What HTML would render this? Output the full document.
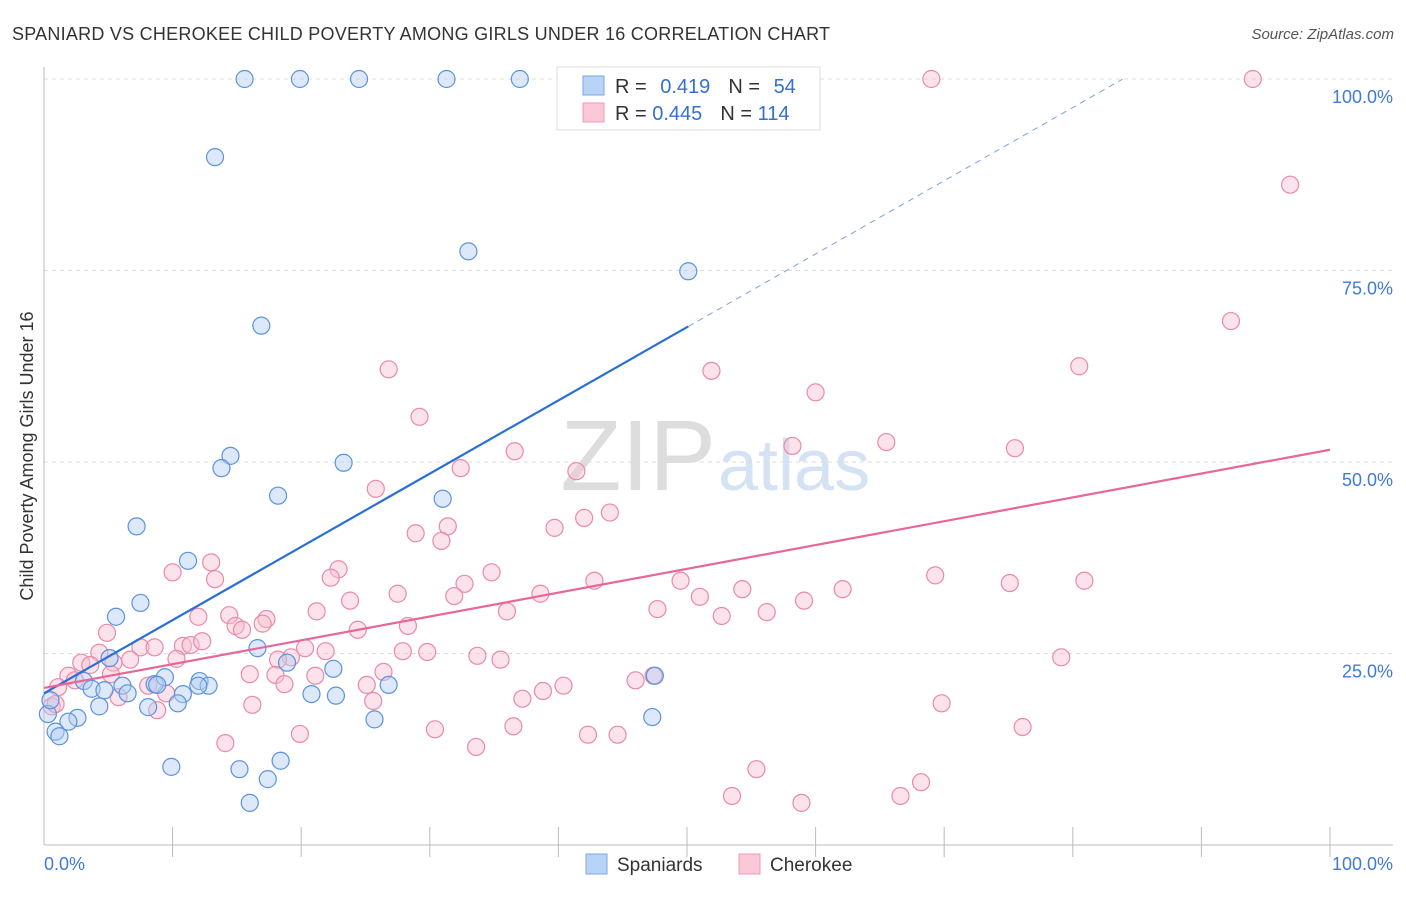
<!DOCTYPE html>
<html><head><meta charset="utf-8"><style>
body{margin:0;background:#fff;font-family:"Liberation Sans",sans-serif;}
svg text{font-family:"Liberation Sans",sans-serif;}
</style></head><body>
<svg id="c" width="1406" height="892" xmlns="http://www.w3.org/2000/svg">
<text x="12" y="40" font-size="18" fill="#333" textLength="818">SPANIARD VS CHEROKEE CHILD POVERTY AMONG GIRLS UNDER 16 CORRELATION CHART</text>
<text x="1394" y="39" font-size="15" fill="#555" text-anchor="end" font-style="italic">Source: ZipAtlas.com</text>
<text x="716" y="490" font-size="100" fill="#ddd" text-anchor="end" font-family="Liberation Serif">ZIP</text>
<text x="718" y="490" font-size="72" fill="#d4e2f4">atlas</text>
<text transform="translate(33,456) rotate(-90)" font-size="18" fill="#333" text-anchor="middle">Child Poverty Among Girls Under 16</text>
<g id="grid"></g><g id="marks"></g><g id="lines"></g>
<g>
<rect x="557" y="67" width="263" height="63" fill="#fff" stroke="#ddd"/>
<rect x="583" y="76" width="21" height="19" fill="#b8d3f5" stroke="#7aa8e6"/>
<rect x="583" y="103" width="21" height="19" fill="#fac8d6" stroke="#f09ab4"/>
<text x="615" y="93" font-size="20" fill="#333">R = <tspan fill="#3470d0" dx="8">0.419</tspan><tspan fill="#333" dx="18">N = </tspan><tspan fill="#3470d0" dx="8">54</tspan></text>
<text x="615" y="120" font-size="20" fill="#333">R = <tspan fill="#3470d0">0.445</tspan><tspan fill="#333" dx="18">N = </tspan><tspan fill="#3470d0">114</tspan></text>
</g>
<g>
<rect x="586" y="854" width="21" height="20" fill="#b8d3f5" stroke="#7aa8e6"/>
<text x="617" y="871" font-size="19" fill="#333">Spaniards</text>
<rect x="739" y="854" width="21" height="20" fill="#fac8d6" stroke="#f09ab4"/>
<text x="770" y="871" font-size="19" fill="#333">Cherokee</text>
</g>
</svg>
<script>
const yTicks=[25,50,75,100];
const yTickLabels=["25.0%","50.0%","75.0%","100.0%"];
const blueX=[15.6,19.9,24.5,31.3,37.0,13.3,33.0,50.1,16.9,14.5,13.8,23.3,18.2,31.0,7.2,11.2,7.5,5.6,16.6,5.1,3.1,3.7,4.7,6.1,6.5,8.6,9.4,8.8,12.1,12.8,12.0,10.8,10.4,8.1,4.3,18.9,22.5,20.8,22.7,26.8,25.7,2.6,1.9,0.9,1.2,0.3,0.5,9.9,15.2,17.4,18.4,16.0,47.5,47.3];
const blueY=[100,100,100,100,100,89.8,77.5,74.9,67.8,50.8,49.2,49.9,45.6,45.2,41.6,37.1,31.6,29.8,25.7,24.4,21.4,20.4,20.2,20.8,19.8,21.0,21.9,20.9,21.4,20.8,20.8,19.7,18.5,18.0,18.1,23.8,23.0,19.7,19.5,20.9,16.4,16.6,16.1,14.8,14.2,17.1,18.9,10.2,9.9,8.6,11.0,5.5,22.1,16.7];
const pinkX=[69.0,94.0,96.9,92.3,80.5,26.8,51.9,60.0,29.2,36.6,58.2,65.5,75.5,32.4,41.4,25.8,44.0,42.0,31.4,39.7,28.9,30.9,13.0,10.0,13.3,22.9,22.3,34.8,32.7,31.9,27.5,23.8,38.6,42.8,49.5,51.0,54.3,62.1,69.3,75.1,80.9,47.7,52.7,56.2,59.1,36.0,21.2,14.4,12.0,17.3,14.9,15.4,17.0,24.4,28.3,4.9,7.5,8.6,10.8,11.4,12.3,20.3,21.9,27.9,29.8,33.7,35.5,79.1,4.3,2.9,3.6,5.4,6.7,10.3,19.2,18.2,1.9,2.4,5.2,16.0,18.0,21.1,26.4,1.1,8.1,9.5,5.8,18.7,25.1,40.4,46.0,47.4,38.8,37.2,25.6,16.2,8.8,69.8,0.6,0.9,36.5,30.4,76.1,19.9,42.3,44.6,14.1,33.6,55.4,68.2,53.5,66.6,58.9];
const pinkY=[100,100,86.2,68.4,62.5,62.1,61.9,59.1,55.9,51.4,52.1,52.6,51.8,49.2,48.8,46.5,43.4,42.7,41.6,41.4,40.7,39.7,36.9,35.6,34.7,36.0,34.9,35.6,34.1,32.5,32.8,31.9,32.8,34.5,34.5,32.4,33.4,33.4,35.2,34.2,34.5,30.8,29.9,30.4,31.9,30.5,30.5,30.0,29.8,29.5,28.6,28.1,28.9,28.1,28.6,27.7,25.8,25.8,26.0,26.1,26.6,25.7,25.3,25.3,25.2,24.7,24.2,24.5,25.1,23.8,23.5,23.8,24.2,24.3,24.5,24.2,22.1,21.5,22.3,22.3,22.2,22.1,22.6,20.6,20.8,19.8,19.3,21.0,20.9,20.8,21.5,22.1,20.1,19.1,18.8,18.3,17.6,18.5,18.1,18.4,15.5,15.1,15.4,14.5,14.4,14.4,13.3,12.8,9.9,8.2,6.4,6.4,5.5];
const blueTrend=[19.8,0.956];
const pinkTrend=[20.5,0.311];
const X0=44,X1=1330,Y0=845,Y100=79;
const sx=v=>X0+(X1-X0)*v/100, sy=v=>Y0-(Y0-Y100)*v/100;
const NS="http://www.w3.org/2000/svg";
function mk(t,a,p){const e=document.createElementNS(NS,t);for(const k in a)e.setAttribute(k,a[k]);p.appendChild(e);return e;}
const grid=document.getElementById('grid'),marks=document.getElementById('marks'),lines=document.getElementById('lines');
yTicks.forEach((t,i)=>{
 const g=mk('line',{x1:X0,x2:1393,y1:sy(t),y2:sy(t),stroke:'#ddd','stroke-dasharray':'4,4'},grid);
 
 
 const l=mk('text',{x:1393,y:sy(t)+24,'font-size':18,fill:'#3f7ad6','text-anchor':'end'},grid);
 l.textContent=yTickLabels[i];
 
 
});
const ax=mk('line',{x1:X0,x2:X0,y1:67,y2:Y0,stroke:'#bbb'},grid);


const bx=mk('line',{x1:X0,x2:1393,y1:Y0,y2:Y0,stroke:'#bbb'},grid);


for(let i=1;i<=10;i++){const t=mk('line',{x1:sx(i*10),x2:sx(i*10),y1:Y0-18,y2:Y0+12,stroke:'#bbb'},grid);
 
 }
[["0.0%",X0,'start'],["100.0%",1393,'end']].forEach(a=>{const t=mk('text',{x:a[1],y:870,'font-size':18,fill:'#3f7ad6','text-anchor':a[2]},grid);t.textContent=a[0];
 
 });
function pts(xs,ys,f,s,n){xs.forEach((x,i)=>{const c=mk('circle',{cx:sx(x),cy:sy(ys[i]),r:8.5,fill:f,'fill-opacity':0.45,stroke:s,'stroke-width':1.2},marks);
 
 });}
pts(pinkX,pinkY,'#f8bfd0','#e98aa8','cherokee-point');
pts(blueX,blueY,'#b3cff3','#5b93dc','spaniard-point');
const bEnd=50.1, bTop=(100-blueTrend[0])/blueTrend[1];
const l1=mk('line',{x1:sx(0),y1:sy(blueTrend[0]),x2:sx(bEnd),y2:sy(blueTrend[0]+blueTrend[1]*bEnd),stroke:'#2a6fd4','stroke-width':2.2},lines);


const l2=mk('line',{x1:sx(bEnd),y1:sy(blueTrend[0]+blueTrend[1]*bEnd),x2:sx(bTop),y2:sy(100),stroke:'#7aa3dc','stroke-width':1,'stroke-dasharray':'6,5'},lines);


const l3=mk('line',{x1:sx(0),y1:sy(pinkTrend[0]),x2:sx(100),y2:sy(pinkTrend[0]+pinkTrend[1]*100),stroke:'#e8679a','stroke-width':2.2},lines);


</script>
</body></html>
